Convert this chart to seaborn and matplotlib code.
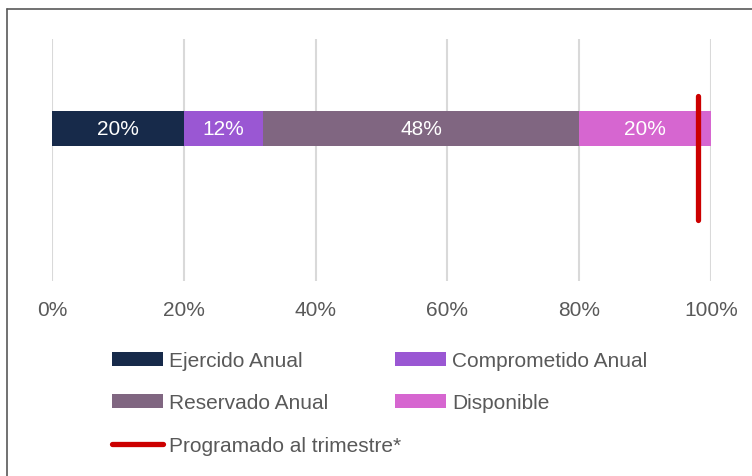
import seaborn as sns
import matplotlib.pyplot as plt
import pandas as pd
from matplotlib.patches import Patch
from matplotlib.lines import Line2D

# data
series = ["Ejercido Anual", "Comprometido Anual", "Reservado Anual", "Disponible"]
values = [20, 12, 48, 20]
colors = ["#172a4a", "#9a57d3", "#806681", "#d666d0"]
programado = 98
programado_label = "Programado al trimestre*"
ticks = [0, 20, 40, 60, 80, 100]

sns.set_theme(style="white")
plt.rcParams["font.family"] = ["Liberation Sans", "DejaVu Sans"]

fig = plt.figure(figsize=(7.52, 4.77), dpi=100)
ax = fig.add_axes([52 / 752, 1 - 282 / 477, 659 / 752, 242 / 477])

cum = pd.Series(values).cumsum().tolist()
df = pd.DataFrame({"cat": ["Presupuesto"] * len(series), "serie": series, "cum": cum})

# draw cumulative bars from the longest to the shortest so they stack
for i in reversed(range(len(series))):
    sns.barplot(data=df.iloc[[i]], x="cum", y="cat", orient="h", color=colors[i],
                width=0.8, saturation=1, linewidth=0, ax=ax, zorder=2)

starts = [0] + cum[:-1]
for s, v in zip(starts, values):
    ax.text(s + v / 2, 0, f"{v}%", ha="center", va="center", color="white", fontsize=15, zorder=4)

ax.plot([programado, programado], [-0.74, 2.09], color="#cc0000", lw=3.8,
        solid_capstyle="round", zorder=5)

ax.set_xlim(0, 100)
ax.set_ylim(3.486, -2.046)
ax.set_xticks(ticks)
ax.set_xticklabels([f"{t}%" for t in ticks], fontsize=15, color="#595959")
ax.tick_params(axis="x", length=0, pad=14)
ax.set_yticks([])
ax.set_xlabel("")
ax.set_ylabel("")
for t in ticks:
    ax.axvline(t, color="#d9d9d9", lw=1.5, zorder=0)
for sp in ax.spines.values():
    sp.set_visible(False)

# outer frame (left and top edges visible)
fig.add_artist(Line2D([7 / 752, 7 / 752], [0, 1 - 10 / 477], color="#595959", lw=1.2))
fig.add_artist(Line2D([7 / 752, 1], [1 - 10 / 477, 1 - 10 / 477], color="#595959", lw=1.2))

h = {s: Patch(facecolor=c, edgecolor="none") for s, c in zip(series, colors)}
red = Line2D([0], [0], color="#cc0000", lw=3.8, solid_capstyle="round")

leg_kw = dict(loc="upper left", frameon=False, fontsize=15, handlelength=2.45, handleheight=0.65,
              handletextpad=0.3, labelspacing=1.12, labelcolor="#595959",
              borderpad=0, borderaxespad=0)
leg1 = fig.legend([h[series[0]], h[series[2]], red], [series[0], series[2], programado_label],
                  bbox_to_anchor=(112 / 752, 1 - 352 / 477), **leg_kw)
leg2 = fig.legend([h[series[1]], h[series[3]]], [series[1], series[3]],
                  bbox_to_anchor=(395 / 752, 1 - 352 / 477), **leg_kw)

fig.savefig("out.png", dpi=100)
